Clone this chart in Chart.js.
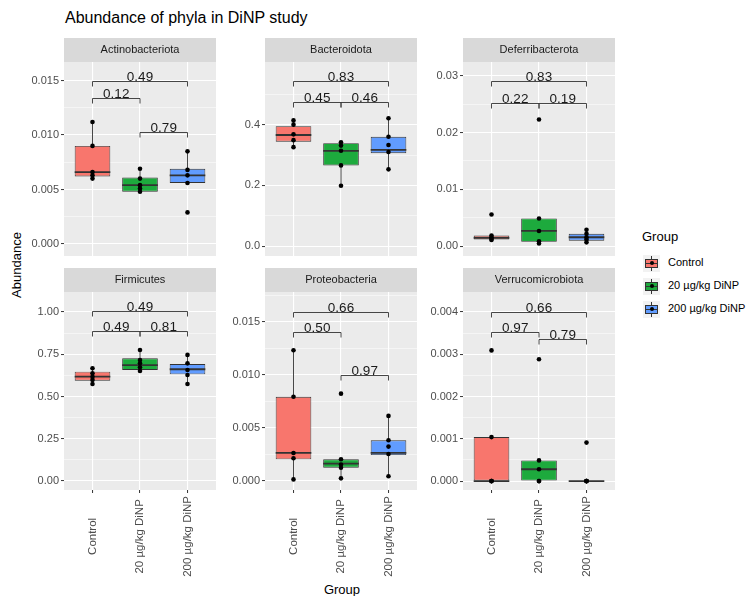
<!DOCTYPE html>
<html>
<head>
<meta charset="utf-8">
<script src="https://cdn.jsdelivr.net/npm/chart.js@4.4.1/dist/chart.umd.min.js"></script>
<style>
  body { margin: 0; background: #fff; font-family: "Liberation Sans", Arial, sans-serif; }
  #wrap { position: relative; width: 750px; height: 596px; overflow: hidden; }
  canvas { position: absolute; }
  .txt { position: absolute; white-space: nowrap; color: #000; }
  .key { position: absolute; width: 17px; height: 17px; background: #F2F2F2; }
  .key .wh { position: absolute; left: 8px; top: 1px; width: 1px; height: 15px; background: #333; }
  .key .bx { position: absolute; left: 2px; top: 4px; width: 11px; height: 7px; border: 1px solid #333; }
  .key .md { position: absolute; left: 2px; top: 8px; width: 13px; height: 1.5px; background: #333; }
  .key .dt { position: absolute; left: 6.5px; top: 6.5px; width: 4px; height: 4px; border-radius: 50%; background: #000; }
</style>
</head>
<body>
<div id="wrap">
  <div class="txt" style="left:65px;top:9px;font-size:16px;">Abundance of phyla in DiNP study</div>
  <div class="txt" style="left:16px;top:265px;font-size:13px;transform:translate(-50%,-50%) rotate(-90deg);">Abundance</div>
  <div class="txt" style="left:342px;top:589px;font-size:13px;transform:translate(-50%,-50%);">Group</div>
  <div class="txt" style="left:642px;top:229px;font-size:13px;">Group</div>
</div>
<script>
// groups and colours
const groups = ['Control', '20 µg/kg DiNP', '200 µg/kg DiNP'];
const groupColors = ['#F8766D', '#1DAA3D', '#619CFF'];
const phyla = ['Actinobacteriota', 'Bacteroidota', 'Deferribacterota',
               'Firmicutes', 'Proteobacteria', 'Verrucomicrobiota'];

// box stats per group: [lower whisker, q1, median, q3, upper whisker]
const actinoBox = [[0.0060, 0.0062, 0.0066, 0.0090, 0.0112],
                   [0.0048, 0.0048, 0.0054, 0.0061, 0.0069],
                   [0.0056, 0.0056, 0.0063, 0.0069, 0.0085]];
const actinoPoints = [[0.0112, 0.0090, 0.0066, 0.0063, 0.0060],
                      [0.0069, 0.0060, 0.0054, 0.0051, 0.0048],
                      [0.0085, 0.0068, 0.0063, 0.0056, 0.0029]];
const actinoTicks = ['0.000', '0.005', '0.010', '0.015'];

const bactBox = [[0.326, 0.344, 0.366, 0.395, 0.414],
                 [0.199, 0.266, 0.314, 0.339, 0.342],
                 [0.253, 0.306, 0.317, 0.360, 0.421]];
const bactPoints = [[0.414, 0.400, 0.368, 0.349, 0.326],
                    [0.342, 0.331, 0.314, 0.266, 0.199],
                    [0.421, 0.360, 0.333, 0.310, 0.253]];
const bactTicks = ['0.0', '0.2', '0.4'];

const deferBox = [[0.0011, 0.0012, 0.0015, 0.0019, 0.0019],
                  [0.0005, 0.0008, 0.0027, 0.0049, 0.0049],
                  [0.0007, 0.0010, 0.0016, 0.0022, 0.0029]];
const deferPoints = [[0.0056, 0.0019, 0.0016, 0.0013, 0.0011],
                     [0.0223, 0.0049, 0.0027, 0.0009, 0.0005],
                     [0.0029, 0.0022, 0.0016, 0.0012, 0.0007]];
const deferTicks = ['0.00', '0.01', '0.02', '0.03'];

const firmBox = [[0.574, 0.593, 0.617, 0.647, 0.667],
                 [0.651, 0.657, 0.686, 0.726, 0.775],
                 [0.574, 0.631, 0.661, 0.692, 0.746]];
const firmPoints = [[0.667, 0.637, 0.617, 0.598, 0.574],
                    [0.775, 0.716, 0.696, 0.673, 0.651],
                    [0.746, 0.696, 0.657, 0.627, 0.574]];
const firmTicks = ['0.00', '0.25', '0.50', '0.75', '1.00'];

const proteoBox = [[0.0001, 0.0020, 0.0026, 0.0079, 0.0123],
                   [0.0002, 0.0012, 0.0016, 0.0020, 0.0020],
                   [0.0004, 0.0024, 0.0026, 0.0038, 0.0061]];
const proteoPoints = [[0.0123, 0.0079, 0.0026, 0.0021, 0.0001],
                      [0.0082, 0.0020, 0.0015, 0.0012, 0.0002],
                      [0.0061, 0.0038, 0.0032, 0.0025, 0.0004]];
const proteoTicks = ['0.000', '0.005', '0.010', '0.015'];

const verrucoBox = [[0, 0, 0, 0.00104, 0.00104],
                    [0, 0, 0.00028, 0.00049, 0.00049],
                    [0, 0, 0, 0, 0]];
const verrucoPoints = [[0.00309, 0.00104, 0, 0, 0],
                       [0.00288, 0.00049, 0.00028, 0, 0],
                       [0.00091, 0, 0, 0, 0]];
const verrucoTicks = ['0.000', '0.001', '0.002', '0.003', '0.004'];

// wilcox p values: Control vs 20, 20 vs 200, Control vs 200
const pairs = [[0, 1], [1, 2], [0, 2]];
const actinoP = ['0.12', '0.79', '0.49'];
const bactP = ['0.45', '0.46', '0.83'];
const deferP = ['0.22', '0.19', '0.83'];
const firmP = ['0.49', '0.81', '0.49'];
const proteoP = ['0.50', '0.97', '0.66'];
const verrucoP = ['0.97', '0.79', '0.66'];
// bracket heights (data units), same order
const actinoPY = [0.01336, 0.0103, 0.0150];
const bactPY = [0.475, 0.475, 0.545];
const deferPY = [0.0252, 0.0252, 0.0291];
const firmPY = [0.889, 0.889, 1.008];
const proteoPY = [0.01406, 0.00997, 0.01594];
const verrucoPY = [0.00353, 0.00337, 0.0040];

const STRIP_H = 24;
const Y_AXIS_W = 42;
const PLOT_W = 156;
const PLOT_H = 198;
const X_AXIS_H = 92;
const FONT = '"Liberation Sans", Arial, sans-serif';
Chart.defaults.font.family = FONT;

const panels = [
  { name: phyla[0], box: actinoBox, pts: actinoPoints, ticks: actinoTicks, p: actinoP, py: actinoPY, yMin: -0.0011, yMax: 0.0167, left: 64, top: 62, showX: false },
  { name: phyla[1], box: bactBox, pts: bactPoints, ticks: bactTicks, p: bactP, py: bactPY, yMin: -0.032, yMax: 0.606, left: 265, top: 62, showX: false },
  { name: phyla[2], box: deferBox, pts: deferPoints, ticks: deferTicks, p: deferP, py: deferPY, yMin: -0.0017, yMax: 0.0324, left: 463, top: 62, showX: false },
  { name: phyla[3], box: firmBox, pts: firmPoints, ticks: firmTicks, p: firmP, py: firmPY, yMin: -0.053, yMax: 1.118, left: 64, top: 292, showX: true },
  { name: phyla[4], box: proteoBox, pts: proteoPoints, ticks: proteoTicks, p: proteoP, py: proteoPY, yMin: -0.0009, yMax: 0.0178, left: 265, top: 292, showX: true },
  { name: phyla[5], box: verrucoBox, pts: verrucoPoints, ticks: verrucoTicks, p: verrucoP, py: verrucoPY, yMin: -0.00021, yMax: 0.00447, left: 463, top: 292, showX: true }
];

// draws strip, panel background, whiskers, medians, brackets, x labels
function facetPlugin(panel) {
  return {
    id: 'facet',
    beforeDraw(chart) {
      const { ctx, chartArea: a } = chart;
      ctx.save();
      ctx.fillStyle = '#EBEBEB';
      ctx.fillRect(a.left, a.top, a.width, a.height);
      ctx.fillStyle = '#D9D9D9';
      ctx.fillRect(a.left, a.top - STRIP_H, a.width, STRIP_H);
      ctx.fillStyle = '#1A1A1A';
      ctx.font = '11px ' + FONT;
      ctx.textAlign = 'center';
      ctx.textBaseline = 'middle';
      ctx.fillText(panel.name, (a.left + a.right) / 2, a.top - STRIP_H / 2);
      ctx.restore();
    },
    beforeDatasetsDraw(chart) {
      const { ctx, scales: { x, y } } = chart;
      ctx.save();
      ctx.strokeStyle = '#333333';
      ctx.lineWidth = 0.9;
      panel.box.forEach((b, i) => {
        const px = x.getPixelForValue(i + 1);
        ctx.beginPath();
        ctx.moveTo(px, y.getPixelForValue(b[0]));
        ctx.lineTo(px, y.getPixelForValue(b[4]));
        ctx.stroke();
      });
      ctx.restore();
    },
    afterDatasetDraw(chart, args) {
      if (args.meta.type !== 'bar') return;
      const { ctx, scales: { y } } = chart;
      ctx.save();
      ctx.strokeStyle = '#333333';
      ctx.lineWidth = 1.8;
      args.meta.data.forEach((bar, i) => {
        const py = y.getPixelForValue(panel.box[i][2]);
        ctx.beginPath();
        ctx.moveTo(bar.x - bar.width / 2, py);
        ctx.lineTo(bar.x + bar.width / 2, py);
        ctx.stroke();
      });
      ctx.restore();
    },
    afterDatasetsDraw(chart) {
      const { ctx, scales: { x, y } } = chart;
      ctx.save();
      ctx.strokeStyle = '#333333';
      ctx.lineWidth = 0.9;
      ctx.fillStyle = '#1A1A1A';
      ctx.font = '13.5px ' + FONT;
      ctx.textAlign = 'center';
      ctx.textBaseline = 'bottom';
      pairs.forEach((pr, k) => {
        const x1 = x.getPixelForValue(pr[0] + 1);
        const x2 = x.getPixelForValue(pr[1] + 1);
        const py = Math.round(y.getPixelForValue(panel.py[k])) + 0.5;
        ctx.beginPath();
        ctx.moveTo(x1, py + 5);
        ctx.lineTo(x1, py);
        ctx.lineTo(x2, py);
        ctx.lineTo(x2, py + 5);
        ctx.stroke();
        ctx.fillText(panel.p[k], (x1 + x2) / 2, py + 3);
      });
      ctx.restore();
    },
    afterDraw(chart) {
      if (!panel.showX) return;
      const { ctx, chartArea: a, scales: { x } } = chart;
      ctx.save();
      ctx.fillStyle = '#4D4D4D';
      ctx.font = '11.5px ' + FONT;
      const maxW = Math.max(...groups.map(g => ctx.measureText(g).width));
      const cy = a.bottom + 6 + maxW / 2;
      ctx.textAlign = 'center';
      ctx.textBaseline = 'middle';
      groups.forEach((g, i) => {
        ctx.save();
        ctx.translate(x.getPixelForValue(i + 1), cy);
        ctx.rotate(-Math.PI / 2);
        ctx.fillText(g, 0, 0);
        ctx.restore();
      });
      ctx.restore();
    }
  };
}

function yTickList(labels, min, max) {
  const vals = labels.map(parseFloat);
  const step = vals[1] - vals[0];
  const list = vals.map((v, i) => ({ value: v, txt: labels[i], minor: false }));
  for (let v = vals[0] - step / 2; v <= vals[vals.length - 1] + step / 2 + 1e-12; v += step) {
    if (v >= min && v <= max) list.push({ value: v, txt: '', minor: true });
  }
  return list.sort((p, q) => p.value - q.value);
}

const wrap = document.getElementById('wrap');
panels.forEach(panel => {
  const canvas = document.createElement('canvas');
  const w = Y_AXIS_W + PLOT_W;
  const h = STRIP_H + PLOT_H + (panel.showX ? X_AXIS_H : 0);
  canvas.width = w;
  canvas.height = h;
  canvas.style.left = (panel.left - Y_AXIS_W) + 'px';
  canvas.style.top = (panel.top - STRIP_H) + 'px';
  canvas.style.width = w + 'px';
  canvas.style.height = h + 'px';
  wrap.appendChild(canvas);

  const tickList = yTickList(panel.ticks, panel.yMin, panel.yMax);
  const boxData = panel.box.map((b, i) => ({ x: i + 1, y: [b[1], b[3]] }));
  const pointData = [];
  panel.pts.forEach((arr, i) => arr.forEach(v => pointData.push({ x: i + 1, y: v })));

  new Chart(canvas.getContext('2d'), {
    type: 'bar',
    data: {
      datasets: [
        {
          type: 'bar',
          data: boxData,
          backgroundColor: groupColors,
          borderColor: '#333333',
          borderWidth: 0.9,
          borderSkipped: false,
          barPercentage: 0.75,
          categoryPercentage: 1,
          order: 1
        },
        {
          type: 'scatter',
          data: pointData,
          pointRadius: 2.3,
          pointBackgroundColor: '#000000',
          pointBorderWidth: 0,
          order: 0
        }
      ]
    },
    options: {
      responsive: false,
      animation: false,
      devicePixelRatio: 1,
      layout: { padding: { top: STRIP_H, left: 0, right: 0, bottom: 0 } },
      plugins: { legend: { display: false }, tooltip: { enabled: false } },
      scales: {
        x: {
          type: 'linear',
          min: 0.4,
          max: 3.6,
          offset: false,
          afterBuildTicks: s => { s.ticks = groups.map((g, i) => ({ value: i + 1 })); },
          ticks: { display: false },
          grid: { offset: false, color: '#FFFFFF', lineWidth: 1.1, drawTicks: panel.showX, tickLength: 3, tickColor: '#333333', tickWidth: 1 },
          border: { display: false },
          afterFit: s => { s.height = panel.showX ? X_AXIS_H : 0; }
        },
        y: {
          min: panel.yMin,
          max: panel.yMax,
          afterBuildTicks: s => { s.ticks = tickList.map(t => Object.assign({}, t)); },
          ticks: {
            autoSkip: false,
            color: '#4D4D4D',
            font: { size: 11 },
            padding: 2,
            callback: (v, i, t) => t[i].txt
          },
          grid: {
            color: '#FFFFFF',
            lineWidth: c => (c.tick && c.tick.minor ? 0.5 : 1.1),
            tickColor: c => (c.tick && c.tick.minor ? 'rgba(0,0,0,0)' : '#333333'),
            tickLength: 3,
            tickWidth: 1
          },
          border: { display: false },
          afterFit: s => { s.width = Y_AXIS_W; s.paddingTop = 0; s.paddingBottom = 0; }
        }
      }
    },
    plugins: [facetPlugin(panel)]
  });
});

// legend
const rowY = [263, 286, 309];
groups.forEach((g, i) => {
  const key = document.createElement('div');
  key.className = 'key';
  key.style.left = '643px';
  key.style.top = (rowY[i] - 8.5) + 'px';
  key.innerHTML = '<div class="wh"></div><div class="bx" style="background:' + groupColors[i] +
    '"></div><div class="md"></div><div class="dt"></div>';
  wrap.appendChild(key);
  const lab = document.createElement('div');
  lab.className = 'txt';
  lab.style.left = '668px';
  lab.style.top = (rowY[i] - 7) + 'px';
  lab.style.fontSize = '11px';
  lab.textContent = g;
  wrap.appendChild(lab);
});
</script>
</body>
</html>
